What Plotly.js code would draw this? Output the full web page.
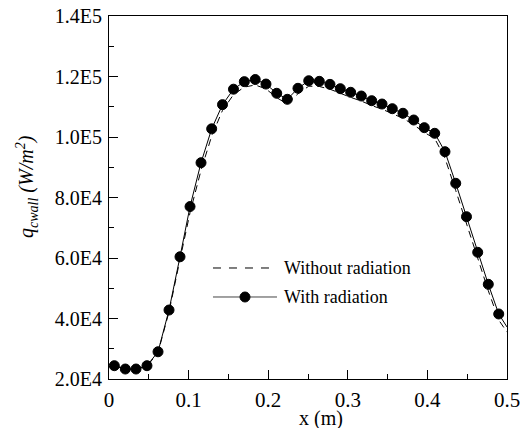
<!DOCTYPE html>
<html>
<head>
<meta charset="utf-8">
<script src="https://cdn.plot.ly/plotly-3.0.1.min.js"></script>
<style>html,body{margin:0;padding:0;background:#fff;}#chart{width:520px;height:428px;}</style>
</head>
<body>
<div id="chart"></div>
<script>
// With radiation (markers), last point is line end at the axis edge
const xWith = [0.0067,0.0205,0.0339,0.0477,0.0616,0.0754,0.0892,0.1018,0.1156,0.1290,0.1426,0.1564,0.1700,0.1837,0.1972,0.2107,0.2240,0.2374,0.2509,0.2642,0.2776,0.2906,0.3036,0.3170,0.3300,0.3430,0.3559,0.3693,0.3828,0.3961,0.4092,0.4221,0.4356,0.4491,0.4632,0.4765,0.4896,0.5];
const yWith = [24400,23300,23300,24400,29000,42800,60400,77000,91500,102700,110700,115800,118300,119000,117500,114450,112460,116100,118600,118400,117400,115970,114780,113550,112000,110900,109360,107840,105620,103080,101220,95140,84690,73650,61880,51310,41490,37200];
// Without radiation (dashed)
const xWithout = [0.0067,0.0205,0.0339,0.0477,0.0616,0.0754,0.0892,0.1018,0.1156,0.1290,0.1426,0.1564,0.1700,0.1837,0.1972,0.2107,0.2240,0.2374,0.2509,0.2642,0.2776,0.2906,0.3036,0.3170,0.3300,0.3430,0.3559,0.3693,0.3828,0.3961,0.4092,0.4221,0.4356,0.4491,0.4632,0.4765,0.4896,0.5];
const yWithout = [24400,23300,23200,24200,28800,42200,59500,75000,89000,100300,108800,114000,116500,117200,115900,113000,110900,114300,116800,116700,115800,114400,113100,111900,110400,109200,107700,106200,104000,101500,99500,93000,82300,71400,59700,49200,39500,35500];
// Tick labels
const yTickVals = [20000,40000,60000,80000,100000,120000,140000];
const yTickText = ["2.0E4","4.0E4","6.0E4","8.0E4","1.0E5","1.2E5","1.4E5"];
const xTickVals = [0,0.1,0.2,0.3,0.4,0.5];
const xTickText = ["0","0.1","0.2","0.3","0.4","0.5"];
const seriesNames = ["Without radiation","With radiation"];

const FONT = "Liberation Serif";
const markerSizes = xWith.map((v,i)=> i === xWith.length-1 ? 0 : 10);

const traces = [
  {x: xWithout, y: yWithout, mode: 'lines', name: seriesNames[0],
   line: {color: '#000', width: 1, dash: '7px,5px'}, showlegend: false},
  {x: xWith, y: yWith, mode: 'lines+markers', name: seriesNames[1],
   line: {color: '#000', width: 1},
   marker: {color: '#000', size: markerSizes, opacity: 1, line: {width: 1, color: '#000'}}, showlegend: false}
];

const axisCommon = {
  showgrid: false, zeroline: false, showline: true, linecolor: '#000', linewidth: 1,
  mirror: true, ticks: 'inside', tickcolor: '#000', tickwidth: 1, ticklen: 9,
  tickmode: 'array', color: '#000', ticklabeloverflow: 'allow'
};

const layout = {
  width: 520, height: 428,
  margin: {l: 109, r: 13, t: 16, b: 49},
  paper_bgcolor: '#fff', plot_bgcolor: '#fff',
  font: {family: FONT, color: '#000', size: 20},
  showlegend: false,
  xaxis: Object.assign({}, axisCommon, {
    range: [-0.000001, 0.500001], tickvals: xTickVals, ticktext: xTickText,
    tickfont: {family: FONT, size: 21, color: '#000'},
    ticklabelstandoff: 2,
    minor: {tickvals: [0.05,0.15,0.25,0.35,0.45], ticks: 'inside', ticklen: 5, tickcolor: '#000', tickwidth: 1}
  }),
  yaxis: Object.assign({}, axisCommon, {
    range: [20000, 140000], tickvals: yTickVals, ticktext: yTickText,
    tickfont: {family: FONT, size: 20, color: '#000'},
    ticklabelstandoff: 2,
    minor: {tickvals: [30000,50000,70000,90000,110000,130000], ticks: 'inside', ticklen: 5, tickcolor: '#000', tickwidth: 1}
  }),
  shapes: [
    {type: 'line', xref: 'paper', yref: 'paper', x0: 0.2613, x1: 0.4221, y0: 0.3058, y1: 0.3058,
     line: {color: '#000', width: 1, dash: '8px,8px'}},
    {type: 'line', xref: 'paper', yref: 'paper', x0: 0.2613, x1: 0.4221, y0: 0.2259, y1: 0.2259,
     line: {color: '#444', width: 1}},
    {type: 'circle', xref: 'paper', yref: 'paper', xsizemode: 'pixel', ysizemode: 'pixel',
     xanchor: 0.3417, yanchor: 0.2259, x0: -5, x1: 5, y0: -5, y1: 5,
     fillcolor: '#000', opacity: 1, line: {color: '#000', width: 1}}
  ],
  annotations: [
    {xref: 'paper', yref: 'paper', x: 0.4347, y: 0.3058, xanchor: 'left', yanchor: 'middle',
     text: seriesNames[0], showarrow: false, font: {family: FONT, size: 18, color: '#000'}},
    {xref: 'paper', yref: 'paper', x: 0.4347, y: 0.2259, xanchor: 'left', yanchor: 'middle',
     text: seriesNames[1], showarrow: false, font: {family: FONT, size: 18, color: '#000'}},
    {xref: 'paper', yref: 'paper', x: (321-109)/398, y: (379-418)/363, xanchor: 'center', yanchor: 'middle',
     text: 'x (m)', showarrow: false, font: {family: FONT, size: 20, color: '#000'}},
    {xref: 'paper', yref: 'paper', x: (27-109)/398, y: (379-187)/363, xanchor: 'center', yanchor: 'middle',
     textangle: -90, showarrow: false,
     text: '<i>q</i><sub><i>cwall</i></sub><i> (W/m</i><sup><i>2</i></sup><i>)</i>',
     font: {family: FONT, size: 20, color: '#000'}}
  ]
};

Plotly.newPlot('chart', traces, layout, {staticPlot: true, displayModeBar: false});
</script>
</body>
</html>
